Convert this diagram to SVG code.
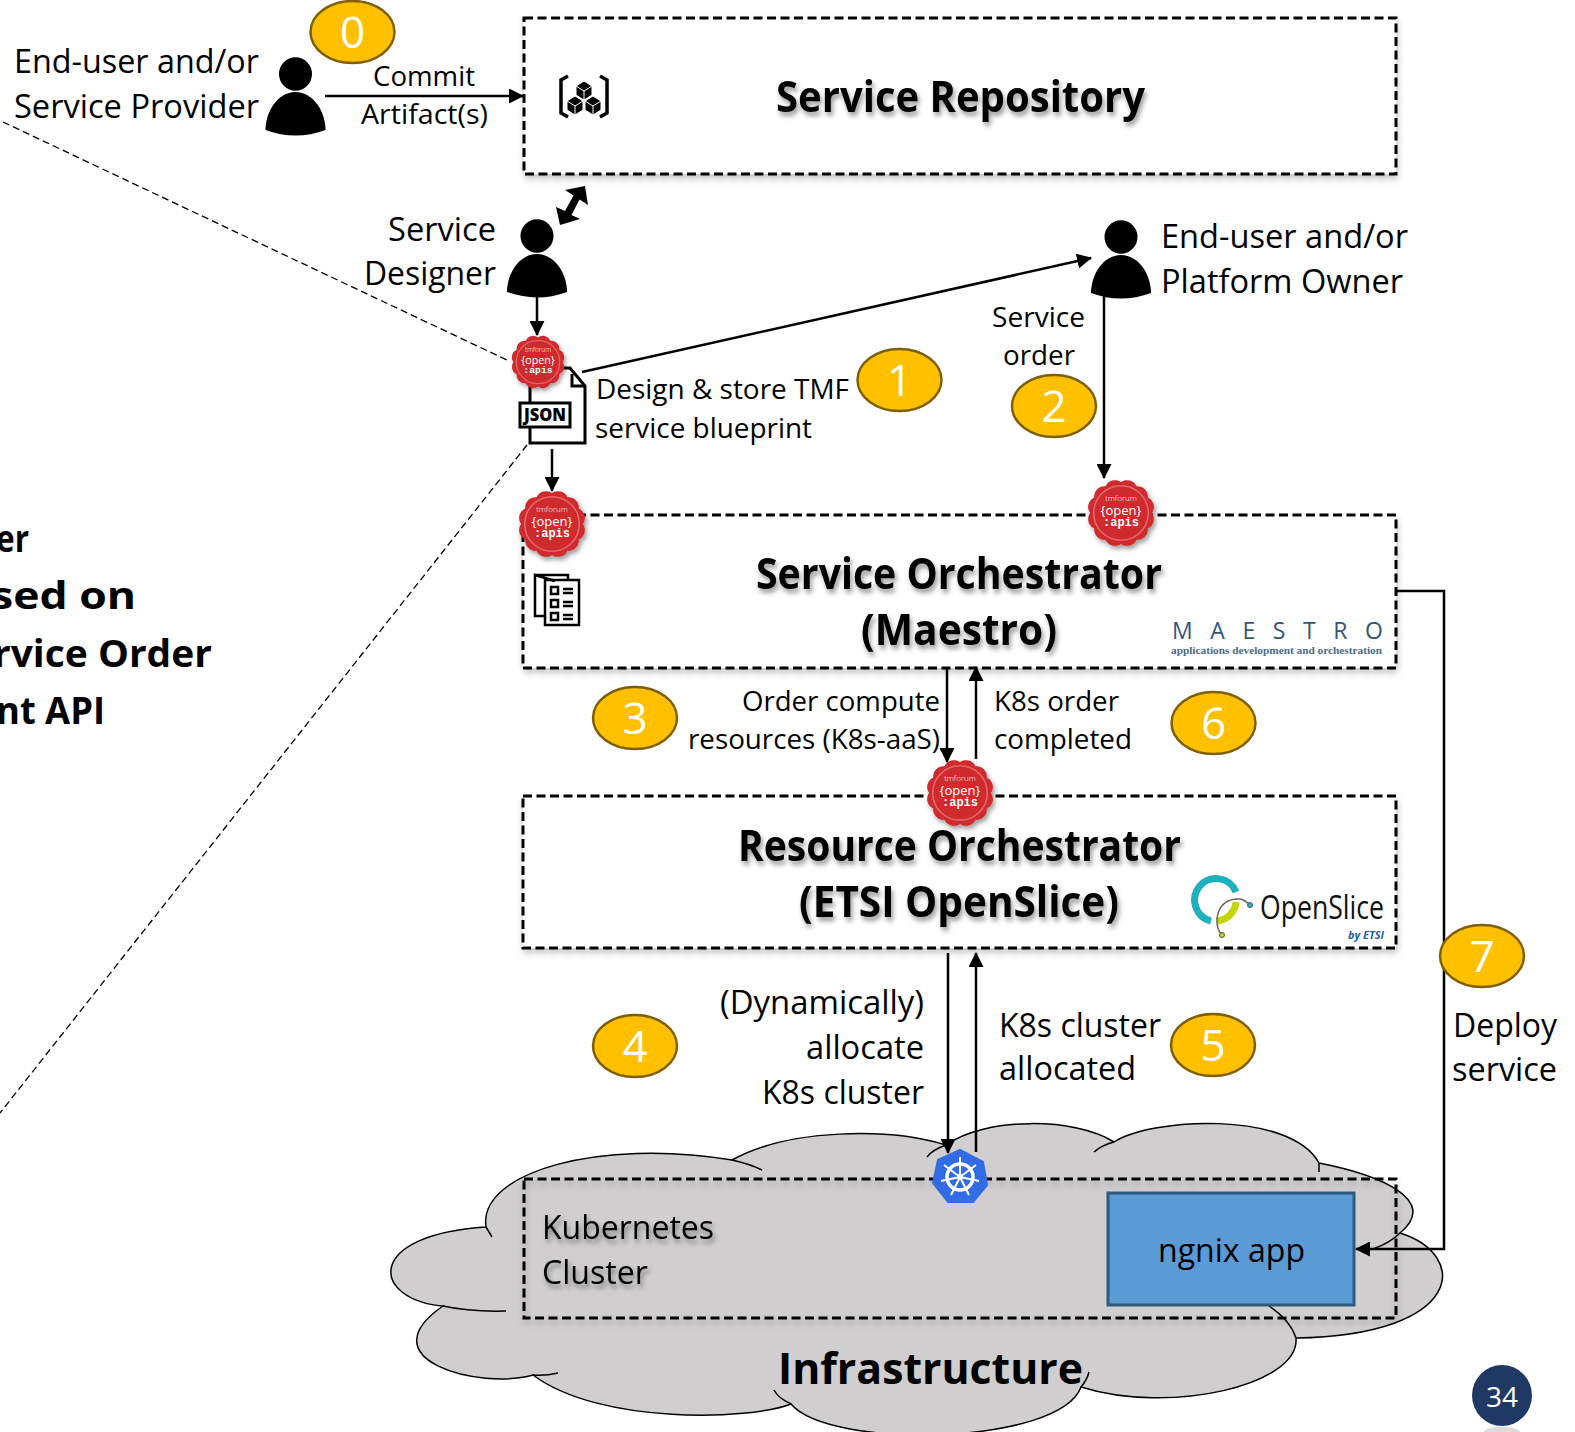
<svg xmlns="http://www.w3.org/2000/svg" width="1575" height="1432" viewBox="0 0 1575 1432">
<style>
text{font-family:"Open Sans","Liberation Sans",sans-serif;fill:#000}
.l{font-size:32px}
.m{font-size:28px}
.b{font-size:43px;font-weight:700}
.h{font-size:38px;font-weight:700}
.n{font-size:44px;fill:#fff;text-anchor:middle}
.box{fill:#fff;stroke:#000;stroke-width:3;stroke-dasharray:9 4.5;filter:url(#bs)}
.num{fill:#ffc000;stroke:#7f6000;stroke-width:2.5}
.c{fill:none;stroke:#000;stroke-width:2.5;marker-end:url(#a)}
.d{fill:none;stroke:#000;stroke-width:1.3;stroke-dasharray:7 4}
.tail{fill:none;stroke:#000;stroke-width:1.5}
.s1{font-size:8px;fill:#fff;text-anchor:middle;font-weight:300}
.s2{font-size:13px;fill:#fff;text-anchor:middle;font-weight:400}
.s3{font-size:12px;fill:#fff;text-anchor:middle;font-weight:700;font-family:"Liberation Mono",monospace}
.ic{fill:none;stroke:#000;stroke-width:2.5}
.tsh{filter:url(#ts)}
</style>
<defs>
<filter id="ts" x="-10%" y="-30%" width="120%" height="170%"><feDropShadow dx="2" dy="4" stdDeviation="2.5" flood-color="#000" flood-opacity=".4"/></filter>
<filter id="bs" x="-3%" y="-10%" width="106%" height="125%"><feDropShadow dx="1" dy="4" stdDeviation="3" flood-color="#000" flood-opacity=".22"/></filter>
<filter id="ss" x="-30%" y="-30%" width="170%" height="170%"><feDropShadow dx="2" dy="3" stdDeviation="2.5" flood-color="#000" flood-opacity=".4"/></filter>
<marker id="a" markerWidth="6" markerHeight="6" refX="5.6" refY="3" orient="auto" markerUnits="strokeWidth"><path d="M0 0L6 3L0 6z" fill="#000"/></marker>
<g id="person"><ellipse cx="0" cy="0" rx="16.5" ry="16.7"/><path d="M0 18C18 18 30 38 30 56Q15 61.500 0 61.500Q-15 61.500 -30 56C-30 38 -18 18 0 18z"/></g>
<g id="seal"><path filter="url(#ss)" fill="#cf2a2e" d="M30 0A10 10 0 0 1 26 15A10 10 0 0 1 15 26A10 10 0 0 1 0 30A10 10 0 0 1 -15 26A10 10 0 0 1 -26 15A10 10 0 0 1 -30 0A10 10 0 0 1 -26 -15A10 10 0 0 1 -15 -26A10 10 0 0 1 0 -30A10 10 0 0 1 15 -26A10 10 0 0 1 26 -15A10 10 0 0 1 30 0z"/><circle r="26.500" fill="none" stroke="#e4686a" stroke-width="1.5"/></g>
</defs>

<g id="infrastructure">
<path fill="#d0cece" stroke="#000" stroke-width="1.5" d="M443 1306C372 1300 362 1235 486 1227C478 1172 600 1138 732 1160C790 1128 890 1128 946 1145C985 1117 1075 1117 1114 1142C1150 1118 1290 1110 1319 1163C1380 1175 1440 1200 1400 1233C1470 1255 1465 1335 1296 1338C1300 1385 1170 1415 1081 1387C1060 1445 830 1450 791 1404C750 1420 600 1425 533 1375C480 1390 365 1360 443 1306z"/>
<path class="tail" d="M443 1306Q470 1312 506 1311M533 1375Q545 1376 558 1373M791 1404Q778 1398 774 1390M1081 1387Q1087 1380 1089 1372M1296 1338Q1290 1320 1269 1306M1400 1233Q1390 1243 1373 1249M1319 1163V1172M1114 1142Q1102 1145 1094 1152M946 1145Q932 1150 927 1157M732 1160Q750 1164 762 1170M486 1227L492 1237"/>
<text class="b" x="778" y="1384" textLength="305" lengthAdjust="spacingAndGlyphs">Infrastructure</text>
</g>

<g id="kubernetes-cluster">
<rect x="524" y="1179" width="872" height="139" fill="none" stroke="#000" stroke-width="3" stroke-dasharray="9 4.500" filter="url(#bs)"/>
<g class="tsh"><text class="l" x="542" y="1239" textLength="172" lengthAdjust="spacingAndGlyphs">Kubernetes</text>
<text class="l" x="542" y="1284" textLength="106" lengthAdjust="spacingAndGlyphs">Cluster</text></g>
</g>
<g id="ngnix-app">
<rect x="1108" y="1193" width="246" height="112" fill="#5b9bd5" stroke="#2f5a80" stroke-width="3"/>
<text class="l" x="1158" y="1262" textLength="147" lengthAdjust="spacingAndGlyphs">ngnix app</text>
</g>

<g id="service-repository">
<rect class="box" x="524" y="18" width="872" height="156"/>
<path fill="none" stroke="#000" stroke-width="3.500" d="M568 76L561 80V113L568 117M600 76L607 80V113L600 117"/>
<path d="M584 81L592 86V95L584 100L576 95V86zM575 96L583 101V110L575 115L567 110V101zM593 96L601 101V110L593 115L585 110V101z" fill="#000" stroke="#fff" stroke-width="1"/>
<path fill="none" stroke="#fff" stroke-width="1" d="M576 86L584 91L592 86M584 91V100M567 101L575 106L583 101M575 106V115M585 101L593 106L601 101M593 106V115"/>
<g class="tsh"><text class="b" x="776" y="112" textLength="369" lengthAdjust="spacingAndGlyphs">Service Repository</text></g>
</g>

<g id="service-orchestrator">
<rect class="box" x="523" y="515" width="873" height="153"/>
<path class="ic" d="M555 581L535 575V616H546M535 575H568V581" stroke-width="2"/>
<rect class="ic" x="545" y="580" width="34" height="45" fill="#fff"/>
<path class="ic" stroke-width="2" d="M551 587h7v7h-7zM551 600h7v7h-7zM551 613h7v7h-7zM563 589h10M563 593h10M563 602h10M563 606h10M563 615h10M563 619h10"/>
<g class="tsh"><text class="b" x="756" y="589" textLength="406" lengthAdjust="spacingAndGlyphs">Service Orchestrator</text>
<text class="b" x="861" y="645" textLength="196" lengthAdjust="spacingAndGlyphs">(Maestro)</text></g>
<text x="1172" y="639" textLength="211" font-size="23" font-weight="400" style="fill:#34567a" xml:space="preserve">M A E S T R O</text>
<text x="1171" y="654" textLength="211" lengthAdjust="spacingAndGlyphs" font-size="11" font-weight="700" style="fill:#4d6a8a;font-family:'Liberation Serif',serif">applications development and orchestration</text>
</g>

<g id="resource-orchestrator">
<rect class="box" x="523" y="796" width="873" height="152"/>
<g class="tsh"><text class="b" x="738" y="861" textLength="443" lengthAdjust="spacingAndGlyphs">Resource Orchestrator</text>
<text class="b" x="799" y="917" textLength="320" lengthAdjust="spacingAndGlyphs">(ETSI OpenSlice)</text></g>
<path fill="none" stroke="#1fb0bf" stroke-width="7" d="M1211 921A21.500 21.500 0 1 1 1236 892"/>
<path fill="none" stroke="#c4d600" stroke-width="7" d="M1236 902A21 21 0 0 1 1217 921"/>
<path fill="none" stroke="#666" stroke-width="1.500" d="M1222 935C1212 925 1216 897 1240 899Q1245 900 1250 905"/>
<circle cx="1222" cy="935" r="2.500" fill="#c4d600" stroke="#555"/>
<circle cx="1250" cy="905" r="2.500" fill="#1fb0bf" stroke="#555"/>
<text x="1260" y="919" textLength="124" lengthAdjust="spacingAndGlyphs" font-size="33" font-weight="400" style="fill:#111">OpenSlice</text>
<text x="1348" y="939" textLength="36" lengthAdjust="spacingAndGlyphs" font-size="11" font-weight="700" font-style="italic" style="fill:#1f5fa8">by ETSI</text>
</g>

<g id="connectors">
<path class="c" d="M325 96H523"/>
<path fill="#000" d="M585 186L588 205L579.500 199.500L571.500 215L580 219L560 225L556 207L565 211L573.500 195.500L565 190z"/>
<path class="c" d="M537 295V335"/>
<path class="c" d="M582 372L1091 258"/>
<path class="c" d="M552 449V491"/>
<path class="c" d="M1104 296V478"/>
<path class="c" d="M947 668V762"/>
<path class="c" d="M976 759V667"/>
<path class="c" d="M948 953V1153"/>
<path class="c" d="M976 1152V953"/>
<path class="c" d="M1396 591H1444V1249H1356"/>
<path class="d" d="M3 122L509 361"/>
<path class="d" d="M527 445L0 1113"/>
</g>

<g id="user-provider"><use href="#person" x="295.500" y="74"/>
<text class="l" x="14" y="73" textLength="245" lengthAdjust="spacingAndGlyphs">End-user and/or</text>
<text class="l" x="14" y="118" textLength="245" lengthAdjust="spacingAndGlyphs">Service Provider</text></g>
<g id="label-commit"><text class="m" x="373" y="86" textLength="102" lengthAdjust="spacingAndGlyphs">Commit</text>
<text class="m" x="361" y="124" textLength="127" lengthAdjust="spacingAndGlyphs">Artifact(s)</text></g>
<g id="service-designer"><use href="#person" x="537" y="236"/>
<text class="l" x="388" y="241" textLength="108" lengthAdjust="spacingAndGlyphs">Service</text>
<text class="l" x="364" y="285" textLength="132" lengthAdjust="spacingAndGlyphs">Designer</text></g>
<g id="user-platform"><use href="#person" x="1121" y="237"/>
<text class="l" x="1161" y="248" textLength="247" lengthAdjust="spacingAndGlyphs">End-user and/or</text>
<text class="l" x="1161" y="293" textLength="242" lengthAdjust="spacingAndGlyphs">Platform Owner</text></g>

<g id="json-file">
<path fill="#fff" stroke="#000" stroke-width="3" d="M530 368H570L585 386V443H530z"/>
<path fill="none" stroke="#000" stroke-width="3" d="M572 374V386H585"/>
<rect x="520" y="403" width="50" height="24" fill="#fff" stroke="#000" stroke-width="3"/>
<text x="545" y="421" text-anchor="middle" font-size="17" font-weight="800" textLength="42" lengthAdjust="spacingAndGlyphs">JSON</text>
</g>

<g id="labels">
<text class="m" x="992" y="327" textLength="93" lengthAdjust="spacingAndGlyphs">Service</text>
<text class="m" x="1003" y="365" textLength="72" lengthAdjust="spacingAndGlyphs">order</text>
<text class="m" x="596" y="399" textLength="253" lengthAdjust="spacingAndGlyphs">Design &amp; store TMF</text>
<text class="m" x="595" y="438" textLength="217" lengthAdjust="spacingAndGlyphs">service blueprint</text>
<text class="m" x="742" y="711" textLength="198" lengthAdjust="spacingAndGlyphs">Order compute</text>
<text class="m" x="688" y="749" textLength="252" lengthAdjust="spacingAndGlyphs">resources (K8s-aaS)</text>
<text class="m" x="994" y="711" textLength="125" lengthAdjust="spacingAndGlyphs">K8s order</text>
<text class="m" x="994" y="749" textLength="138" lengthAdjust="spacingAndGlyphs">completed</text>
<text class="l" x="720" y="1014" textLength="204" lengthAdjust="spacingAndGlyphs">(Dynamically)</text>
<text class="l" x="806" y="1059" textLength="118" lengthAdjust="spacingAndGlyphs">allocate</text>
<text class="l" x="762" y="1104" textLength="162" lengthAdjust="spacingAndGlyphs">K8s cluster</text>
<text class="l" x="999" y="1037" textLength="162" lengthAdjust="spacingAndGlyphs">K8s cluster</text>
<text class="l" x="999" y="1080" textLength="137" lengthAdjust="spacingAndGlyphs">allocated</text>
<text class="l" x="1453" y="1037" textLength="104" lengthAdjust="spacingAndGlyphs">Deploy</text>
<text class="l" x="1452" y="1081" textLength="105" lengthAdjust="spacingAndGlyphs">service</text>
</g>
<g id="cropped-note">
<text class="h" x="-4" y="552" textLength="33" lengthAdjust="spacingAndGlyphs">er</text>
<text class="h" x="-9" y="609" textLength="145" lengthAdjust="spacingAndGlyphs">sed on</text>
<text class="h" x="-7" y="667" textLength="219" lengthAdjust="spacingAndGlyphs">rvice Order</text>
<text class="h" x="-4" y="724" textLength="109" lengthAdjust="spacingAndGlyphs">nt API</text>
</g>

<g id="seal-designer"><use href="#seal" transform="translate(538 362) scale(.82)"/>
<text class="s1" transform="translate(538 362) scale(.82)" y="-12">tmforum</text><text class="s2" transform="translate(538 362) scale(.82)" y="2">{open}</text><text class="s3" transform="translate(538 362) scale(.82)" y="13">:apis</text></g>
<g id="seal-so-left"><use href="#seal" transform="translate(552 524) scale(1.03)"/>
<text class="s1" x="552" y="512">tmforum</text><text class="s2" x="552" y="526">{open}</text><text class="s3" x="552" y="537">:apis</text></g>
<g id="seal-so-right"><use href="#seal" transform="translate(1121 513) scale(1.03)"/>
<text class="s1" x="1121" y="501">tmforum</text><text class="s2" x="1121" y="515">{open}</text><text class="s3" x="1121" y="526">:apis</text></g>
<g id="seal-ro"><use href="#seal" transform="translate(960 793) scale(1.03)"/>
<text class="s1" x="960" y="781">tmforum</text><text class="s2" x="960" y="795">{open}</text><text class="s3" x="960" y="806">:apis</text></g>

<g id="k8s-wheel">
<path d="M960 1150L983 1162L987 1185L973 1202H948L933 1183L938 1160z" fill="#326ce5" stroke="#326ce5" stroke-linejoin="round" stroke-width="2"/>
<circle cx="960" cy="1177" r="13" fill="none" stroke="#fff" stroke-width="3.500"/>
<path stroke="#fff" stroke-width="2" d="M960 1157V1177M960 1177L976 1165M960 1177L979 1181M960 1177L969 1195M960 1177L951 1195M960 1177L941 1181M960 1177L944 1165" fill="none"/>
<circle cx="960" cy="1177" r="3" fill="#fff"/>
</g>

<g id="step-0"><ellipse class="num" cx="352.500" cy="32" rx="42" ry="31"/><text class="n" x="352.500" y="48">0</text></g>
<g id="step-1"><ellipse class="num" cx="899.500" cy="380" rx="42" ry="31"/><text class="n" x="899.500" y="396">1</text></g>
<g id="step-2"><ellipse class="num" cx="1054" cy="406" rx="42" ry="31"/><text class="n" x="1054" y="422">2</text></g>
<g id="step-3"><ellipse class="num" cx="635" cy="718" rx="42" ry="31"/><text class="n" x="635" y="734">3</text></g>
<g id="step-4"><ellipse class="num" cx="635" cy="1046" rx="42" ry="31"/><text class="n" x="635" y="1062">4</text></g>
<g id="step-5"><ellipse class="num" cx="1213" cy="1045" rx="42" ry="31"/><text class="n" x="1213" y="1061">5</text></g>
<g id="step-6"><ellipse class="num" cx="1213.500" cy="723" rx="42" ry="31"/><text class="n" x="1213.500" y="739">6</text></g>
<g id="step-7"><ellipse class="num" cx="1482" cy="956" rx="42" ry="31"/><text class="n" x="1482" y="972">7</text></g>

<g id="page-number">
<ellipse cx="1502" cy="1432" rx="18" ry="5" fill="#dcdcdc"/>
<ellipse cx="1502" cy="1395.500" rx="30" ry="30.500" fill="#1f3864"/>
<text x="1502" y="1407" text-anchor="middle" font-size="28" style="fill:#fff">34</text>
</g>
</svg>
